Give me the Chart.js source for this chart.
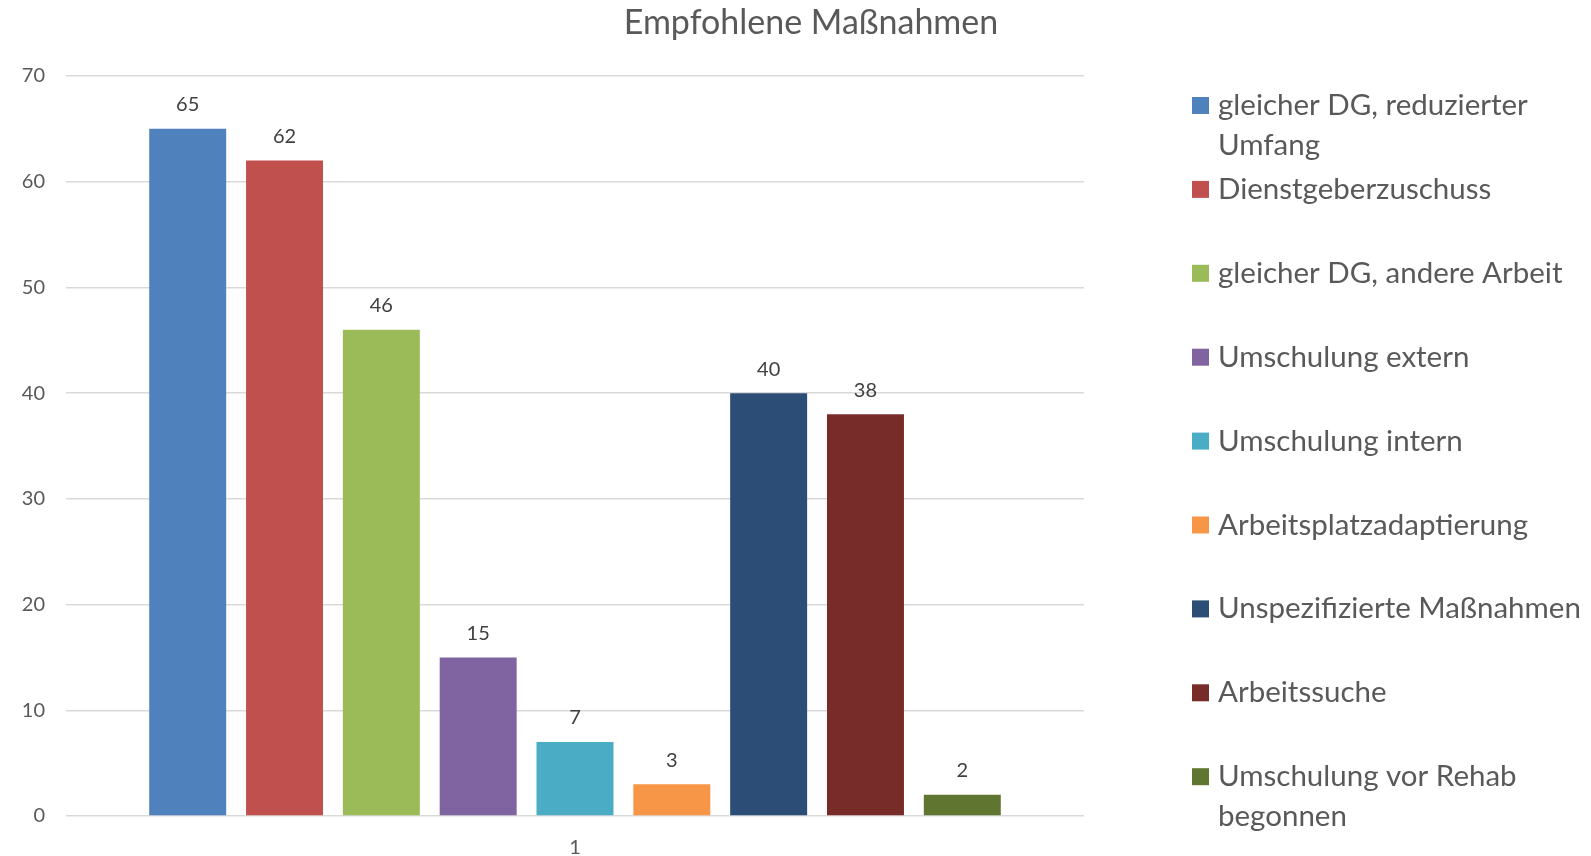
<!DOCTYPE html>
<html>
<head>
<meta charset="utf-8">
<script src="https://cdn.jsdelivr.net/npm/chart.js@4"></script>
<style>
    html, body { margin: 0; padding: 0; background: #fff; }
    #wrap { width: 1591px; height: 856px; }
</style>
</head>
<body>
<div id="wrap"><canvas id="chart1"></canvas></div>
<script>
    const title = 'Empfohlene Maßnahmen';
    const categories = ['1'];
    const seriesNames = [
        'gleicher DG, reduzierter Umfang',
        'Dienstgeberzuschuss',
        'gleicher DG, andere Arbeit',
        'Umschulung extern',
        'Umschulung intern',
        'Arbeitsplatzadaptierung',
        'Unspezifizierte Maßnahmen',
        'Arbeitssuche',
        'Umschulung vor Rehab begonnen'
    ];
    const seriesValues = [65, 62, 46, 15, 7, 3, 40, 38, 2];
    const seriesColors = ['#4F81BD', '#C0504D', '#9BBB59', '#8064A2', '#4BACC6',
                          '#F79646', '#2C4D75', '#772C2A', '#5F7530'];
    const yTicks = [0, 10, 20, 30, 40, 50, 60, 70];

    const FONT = 'Lato, "Open Sans", sans-serif';
    const TEXT = '#595959';

    // title, value labels and a wrapping legend on the right
    const extras = {
        id: 'extras',
        afterDatasetsDraw(chart) {
            const ctx = chart.ctx;
            ctx.save();
            ctx.fillStyle = '#404040';
            ctx.font = '20px ' + FONT;
            ctx.textAlign = 'center';
            ctx.textBaseline = 'middle';
            chart.data.datasets.forEach((ds, i) => {
                const bar = chart.getDatasetMeta(i).data[0];
                ctx.fillText(String(ds.data[0]), bar.x, bar.y - 24);
            });
            ctx.restore();
        },
        afterDraw(chart) {
            const ctx = chart.ctx;
            ctx.save();
            ctx.fillStyle = TEXT;
            ctx.textBaseline = 'middle';
            ctx.textAlign = 'center';
            ctx.font = '34px ' + FONT;
            ctx.fillText(title, 811, 23);

            ctx.textAlign = 'left';
            ctx.font = '29.5px ' + FONT;
            const maxW = 372;
            chart.data.datasets.forEach((ds, i) => {
                const y = 105.5 + i * 83.9;
                ctx.fillStyle = ds.backgroundColor;
                ctx.fillRect(1192, y - 8.5, 17, 17);
                ctx.fillStyle = TEXT;
                // simple word wrap
                const words = ds.label.split(' ');
                let line = '', lines = [];
                words.forEach(w => {
                    const t = line ? line + ' ' + w : w;
                    if (ctx.measureText(t).width > maxW && line) { lines.push(line); line = w; }
                    else line = t;
                });
                lines.push(line);
                lines.forEach((l, k) => ctx.fillText(l, 1218, y + k * 39.6));
            });
            ctx.restore();
        }
    };

    new Chart(document.getElementById('chart1'), {
        type: 'bar',
        data: {
            labels: categories,
            datasets: seriesNames.map((name, i) => ({
                label: name,
                data: [seriesValues[i]],
                backgroundColor: seriesColors[i],
                categoryPercentage: 0.856,
                barPercentage: 0.795
            }))
        },
        options: {
            responsive: true,
            maintainAspectRatio: false,
            animation: false,
            layout: { padding: { left: 0, right: 507, top: 76, bottom: 0 } },
            plugins: {
                legend: { display: false },
                title: { display: false },
                tooltip: { enabled: false }
            },
            scales: {
                x: {
                    grid: { display: false },
                    border: { display: false },
                    ticks: { color: TEXT, font: { family: FONT, size: 20 }, padding: 12 },
                    afterFit(scale) { scale.height = 40; }
                },
                y: {
                    min: 0,
                    max: 70,
                    afterBuildTicks(scale) { scale.ticks = yTicks.map(v => ({ value: v })); },
                    grid: { color: '#D9D9D9', lineWidth: 1.5, drawTicks: false },
                    border: { display: false },
                    ticks: { color: TEXT, font: { family: FONT, size: 20 }, padding: 21 },
                    afterFit(scale) { scale.width = 66; }
                }
            }
        },
        plugins: [extras]
    });
</script>
</body>
</html>
